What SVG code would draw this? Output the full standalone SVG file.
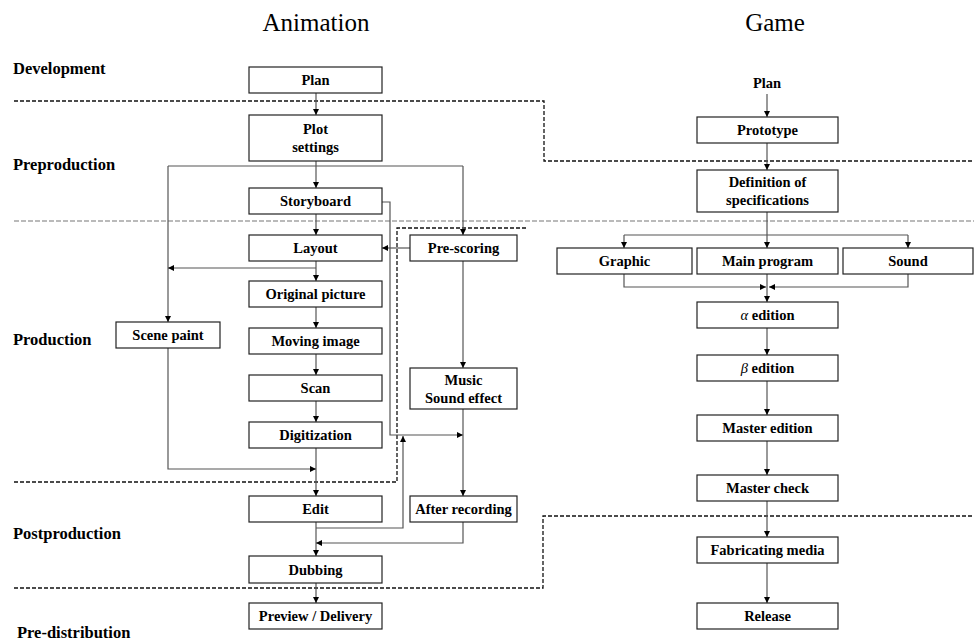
<svg xmlns="http://www.w3.org/2000/svg" width="974" height="643" viewBox="0 0 974 643">
<style>
  .bg { fill: #ffffff; }
  .box { fill: #ffffff; stroke: #222222; stroke-width: 1.2; }
  text { font-family: "Liberation Serif", "DejaVu Serif", serif; fill: #000000; }
  .lbl { font-size: 14.5px; font-weight: bold; text-anchor: middle; }
  .greek { font-style: italic; font-weight: normal; }
  .phase { font-size: 16.5px; font-weight: bold; }
  .title { font-size: 25px; text-anchor: middle; }
  .conn { fill: none; stroke: #555555; stroke-width: 1.2; }
  .arr { marker-end: url(#ah); }
  .dash { fill: none; stroke: #111111; stroke-width: 1.3; stroke-dasharray: 4 2; }
  .dash-grey { fill: none; stroke: #777777; stroke-width: 1.2; stroke-dasharray: 5 2; }
</style>
<defs>
  <marker id="ah" markerUnits="userSpaceOnUse" markerWidth="7" markerHeight="6" refX="6" refY="3" orient="auto">
    <path d="M0,0 L6,3 L0,6 z" fill="#000000"/>
  </marker>
</defs>
<rect class="bg" x="0" y="0" width="974" height="643"/>

<g id="titles">
  <text class="title" x="316" y="31">Animation</text>
  <text class="title" x="775" y="31">Game</text>
</g>

<g id="phase-labels">
  <text class="phase" x="13" y="74">Development</text>
  <text class="phase" x="13" y="170">Preproduction</text>
  <text class="phase" x="13" y="345">Production</text>
  <text class="phase" x="13" y="539">Postproduction</text>
  <text class="phase" x="17" y="638">Pre-distribution</text>
</g>

<g id="phase-lines">
  <path class="dash" d="M14,101 H544 V161 H974"/>
  <path class="dash-grey" d="M14,221 H974"/>
  <path class="dash" d="M14,482 H397 V228 H528"/>
  <path class="dash" d="M14,588 H543 V516 H974"/>
</g>

<g id="connectors">
  <path class="conn arr" d="M316,93 V115"/>
  <path class="conn arr" d="M316,161 V188"/>
  <path class="conn" d="M168,166 H463"/>
  <path class="conn arr" d="M168,166 V322"/>
  <path class="conn arr" d="M463,166 V235"/>
  <path class="conn arr" d="M316,214 V235"/>
  <path class="conn arr" d="M382,202 H390 V435 H463"/>
  <path class="conn arr" d="M410,248 H382"/>
  <path class="conn arr" d="M316,261 V281"/>
  <path class="conn arr" d="M316,268 H168"/>
  <path class="conn arr" d="M316,307 V328"/>
  <path class="conn arr" d="M316,354 V375"/>
  <path class="conn arr" d="M316,401 V422"/>
  <path class="conn arr" d="M316,448 V496"/>
  <path class="conn arr" d="M168,348 V469 H316"/>
  <path class="conn arr" d="M463,261 V368"/>
  <path class="conn arr" d="M463,409 V496"/>
  <path class="conn arr" d="M316,522 V556"/>
  <path class="conn arr" d="M316,528 H403 V436"/>
  <path class="conn arr" d="M463,522 V543 H316"/>
  <path class="conn arr" d="M316,583 V603"/>
  <path class="conn arr" d="M767,94 V117"/>
  <path class="conn arr" d="M767,143 V170"/>
  <path class="conn arr" d="M767,212 V248"/>
  <path class="conn" d="M624,235 H908"/>
  <path class="conn arr" d="M624,235 V248"/>
  <path class="conn arr" d="M908,235 V248"/>
  <path class="conn arr" d="M624,274 V287 H766"/>
  <path class="conn arr" d="M908,274 V287 H769"/>
  <path class="conn arr" d="M767,274 V302"/>
  <path class="conn arr" d="M767,328 V355"/>
  <path class="conn arr" d="M767,381 V415"/>
  <path class="conn arr" d="M767,441 V475"/>
  <path class="conn arr" d="M767,501 V537"/>
  <path class="conn arr" d="M767,563 V603"/>
</g>

<g id="a-plan"><rect class="box" x="249" y="67" width="133" height="26"/><text class="lbl" x="315.5" y="85">Plan</text></g>
<g id="a-plot"><rect class="box" x="249" y="115" width="133" height="46"/><text class="lbl" x="315.5" y="134">Plot</text><text class="lbl" x="315.5" y="152">settings</text></g>
<g id="a-storyboard"><rect class="box" x="249" y="188" width="133" height="26"/><text class="lbl" x="315.5" y="206">Storyboard</text></g>
<g id="a-layout"><rect class="box" x="249" y="235" width="133" height="26"/><text class="lbl" x="315.5" y="253">Layout</text></g>
<g id="a-original"><rect class="box" x="249" y="281" width="133" height="26"/><text class="lbl" x="315.5" y="299">Original picture</text></g>
<g id="a-moving"><rect class="box" x="249" y="328" width="133" height="26"/><text class="lbl" x="315.5" y="346">Moving image</text></g>
<g id="a-scan"><rect class="box" x="249" y="375" width="133" height="26"/><text class="lbl" x="315.5" y="393">Scan</text></g>
<g id="a-digitization"><rect class="box" x="249" y="422" width="133" height="26"/><text class="lbl" x="315.5" y="440">Digitization</text></g>
<g id="a-edit"><rect class="box" x="249" y="496" width="133" height="26"/><text class="lbl" x="315.5" y="514">Edit</text></g>
<g id="a-dubbing"><rect class="box" x="249" y="556" width="133" height="27"/><text class="lbl" x="315.5" y="575">Dubbing</text></g>
<g id="a-preview"><rect class="box" x="249" y="603" width="133" height="26"/><text class="lbl" x="315.5" y="621">Preview / Delivery</text></g>
<g id="a-scene"><rect class="box" x="116" y="322" width="104" height="26"/><text class="lbl" x="168" y="340">Scene paint</text></g>
<g id="a-prescoring"><rect class="box" x="410" y="235" width="107" height="26"/><text class="lbl" x="463.5" y="253">Pre-scoring</text></g>
<g id="a-music"><rect class="box" x="410" y="368" width="107" height="41"/><text class="lbl" x="463.5" y="385">Music</text><text class="lbl" x="463.5" y="403">Sound effect</text></g>
<g id="a-after"><rect class="box" x="410" y="496" width="107" height="26"/><text class="lbl" x="463.5" y="514">After recording</text></g>

<g id="g-plan"><text class="lbl" x="767" y="88">Plan</text></g>
<g id="g-prototype"><rect class="box" x="697" y="117" width="141" height="26"/><text class="lbl" x="767.5" y="135">Prototype</text></g>
<g id="g-definition"><rect class="box" x="697" y="170" width="141" height="42"/><text class="lbl" x="767.5" y="187">Definition of</text><text class="lbl" x="767.5" y="205">specifications</text></g>
<g id="g-graphic"><rect class="box" x="557" y="248" width="135" height="26"/><text class="lbl" x="624.5" y="266">Graphic</text></g>
<g id="g-main"><rect class="box" x="697" y="248" width="141" height="26"/><text class="lbl" x="767.5" y="266">Main program</text></g>
<g id="g-sound"><rect class="box" x="843" y="248" width="130" height="26"/><text class="lbl" x="908" y="266">Sound</text></g>
<g id="g-alpha"><rect class="box" x="697" y="302" width="141" height="26"/><text class="lbl" x="767.5" y="320"><tspan class="greek">α</tspan> edition</text></g>
<g id="g-beta"><rect class="box" x="697" y="355" width="141" height="26"/><text class="lbl" x="767.5" y="373"><tspan class="greek">β</tspan>  edition</text></g>
<g id="g-master"><rect class="box" x="697" y="415" width="141" height="26"/><text class="lbl" x="767.5" y="433">Master edition</text></g>
<g id="g-check"><rect class="box" x="697" y="475" width="141" height="26"/><text class="lbl" x="767.5" y="493">Master check</text></g>
<g id="g-fabricating"><rect class="box" x="697" y="537" width="141" height="26"/><text class="lbl" x="767.5" y="555">Fabricating media</text></g>
<g id="g-release"><rect class="box" x="697" y="603" width="141" height="26"/><text class="lbl" x="767.5" y="621">Release</text></g>
</svg>
